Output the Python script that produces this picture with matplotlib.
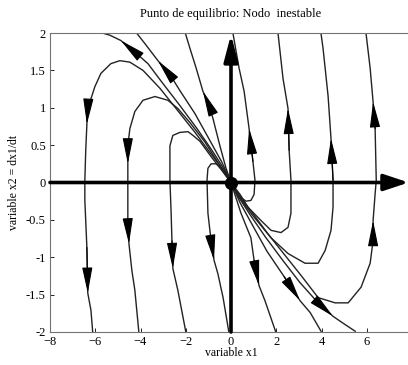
import numpy as np
import matplotlib.pyplot as plt

plt.rcParams.update({'font.family': 'Liberation Serif', 'font.size': 9})

# trayectorias (x1, x2), en el sentido del movimiento
# (todas salen del origen: nodo inestable)
a_x1 = [0, -0.35, -0.84, -1.50, -2.26, -3.05, -3.67, -4.12, -4.87, -5.35, -5.80]
a_x2 = [0, 0.20, 0.43, 0.72, 1.03, 1.34, 1.59, 1.71, 1.90, 1.97, 2.01]

f_x1 = [0, -0.40, -0.93, -1.59, -2.26, -2.65, -3.23, -3.81, -4.20]
f_x2 = [0, 0.27, 0.56, 0.92, 1.23, 1.42, 1.63, 1.86, 2.01]

k_x1 = [0, -0.22, -0.49, -0.80, -1.02, -1.24, -1.55, -1.81, -2.04]
k_x2 = [0, 0.19, 0.49, 0.86, 1.07, 1.22, 1.54, 1.79, 2.02]

b_x1 = [0, -0.40, -0.93, -1.59, -2.35, -3.14, -3.89, -4.47, -4.91, -5.31, -5.75,
        -6.02, -6.19, -6.33, -6.37, -6.42, -6.46, -6.46, -6.37, -6.33, -6.19, -6.11]
b_x2 = [0, 0.19, 0.40, 0.67, 0.96, 1.26, 1.50, 1.61, 1.63, 1.59, 1.46,
        1.28, 1.12, 0.99, 0.78, 0.43, 0.03, -0.24, -0.87, -1.48, -1.71, -2.01]

c_x1 = [0, -0.58, -1.15, -1.81, -2.35, -2.79, -3.36, -3.89, -4.25, -4.47, -4.56,
        -4.56, -4.56, -4.56, -4.51, -4.38, -4.25, -4.07]
c_x2 = [0, 0.27, 0.54, 0.80, 0.99, 1.10, 1.15, 1.10, 0.95, 0.72, 0.49,
        0.25, 0.03, -0.51, -0.82, -1.18, -1.44, -2.01]

d_x1 = [0, -0.40, -0.84, -1.37, -1.68, -1.90, -2.26, -2.57, -2.70, -2.70, -2.65,
        -2.61, -2.57, -2.35, -1.99]
d_x2 = [0, 0.16, 0.33, 0.55, 0.63, 0.68, 0.67, 0.63, 0.49, 0.03, -0.37,
        -0.78, -1.15, -1.44, -2.01]

e_x1 = [0, -0.22, -0.44, -0.66, -0.88, -1.02, -1.06, -1.02, -0.88, -0.75, -0.58, -0.35, -0.09]
e_x2 = [0, 0.09, 0.19, 0.25, 0.25, 0.19, 0.03, -0.41, -0.78, -1.04, -1.22, -1.54, -2.01]

g_x1 = [0, 0.40, 0.93, 1.59, 2.35, 3.14, 3.85, 4.60, 5.18, 5.75, 6.15, 6.28, 6.28,
        6.37, 6.42, 6.37, 6.28, 6.15, 5.97]
g_x2 = [0, -0.19, -0.40, -0.67, -0.96, -1.26, -1.54, -1.61, -1.61, -1.40, -1.08, -0.78, -0.51,
        -0.15, 0.03, 0.72, 1.08, 1.53, 1.99]

h_x1 = [0, 0.40, 0.93, 1.77, 2.52, 3.27, 3.85, 4.16, 4.42, 4.51, 4.51, 4.42, 4.29, 4.07, 3.98]
h_x2 = [0, -0.21, -0.43, -0.74, -0.95, -1.08, -1.08, -0.91, -0.64, -0.33, 0.03, 0.59, 1.16, 1.79, 1.99]

i_x1 = [0, 0.40, 0.75, 1.33, 1.77, 2.21, 2.52, 2.65, 2.65, 2.57, 2.52, 2.30, 2.08]
i_x2 = [0, -0.16, -0.33, -0.51, -0.64, -0.67, -0.60, -0.41, 0.03, 0.43, 0.99, 1.39, 1.99]

j_x1 = [0, 0.18, 0.44, 0.66, 0.88, 1.02, 1.06, 0.97, 0.80, 0.58, 0.35, 0.09]
j_x2 = [0, -0.09, -0.20, -0.25, -0.24, -0.16, 0.03, 0.28, 0.72, 1.22, 1.54, 1.99]

l_x1 = [0, 0.44, 0.88, 1.02, 1.24, 1.50, 1.99]
l_x2 = [0, -0.41, -0.74, -1.04, -1.38, -1.58, -2.01]

m_x1 = [0, 0.40, 0.93, 1.59, 2.35, 3.05, 3.50, 3.98]
m_x2 = [0, -0.27, -0.56, -0.92, -1.26, -1.58, -1.74, -1.99]

n_x1 = [0, 0.35, 0.84, 1.50, 2.26, 3.05, 3.85, 4.51, 5.04, 5.49]
n_x2 = [0, -0.20, -0.43, -0.72, -1.03, -1.34, -1.61, -1.79, -1.90, -1.99]

# (x1, x2, indices donde va la punta de flecha)
curvas = [
    (a_x1, a_x2, [8]), (f_x1, f_x2, [6]), (k_x1, k_x2, [5]),
    (b_x1, b_x2, [14, 19]), (c_x1, c_x2, [11, 14]), (d_x1, d_x2, [12]),
    (e_x1, e_x2, [9]), (g_x1, g_x2, [12, 16]), (h_x1, h_x2, [11]),
    (i_x1, i_x2, [10]), (j_x1, j_x2, [8]), (l_x1, l_x2, [4]),
    (m_x1, m_x2, [5]), (n_x1, n_x2, [7]),
]

xticks = [-8, -6, -4, -2, 0, 2, 4, 6]
yticks = [-2, -1.5, -1, -0.5, 0, 0.5, 1, 1.5, 2]
ytick_labels = ['-2', '-1.5', '-1', '-0.5', '0', '0.5', '1', '1.5', '2']

fig = plt.figure(figsize=(4.08, 3.65), dpi=100)
ax = fig.add_axes([50/408, 33/365, 362/408, 299/365])

for xs, ys, flechas in curvas:
    ax.plot(xs, ys, color='#222222', lw=1.0, zorder=2)
    for i in flechas:
        ax.annotate('', xy=(xs[i], ys[i]), xytext=(xs[i-1], ys[i-1]),
                    arrowprops=dict(arrowstyle='-|>,head_length=1.6,head_width=0.32',
                                    mutation_scale=10, fc='k', ec='k', lw=0.8,
                                    shrinkA=0, shrinkB=0), zorder=3)

# ejes del plano de fase
ax.annotate('', xy=(7.85, 0), xytext=(-8, 0), annotation_clip=False,
            arrowprops=dict(arrowstyle='-|>,head_length=1.5,head_width=0.5',
                            mutation_scale=10, fc='k', ec='k', lw=2.6,
                            shrinkA=0, shrinkB=0), zorder=4)
ax.annotate('', xy=(0, 1.98), xytext=(0, -2), annotation_clip=False,
            arrowprops=dict(arrowstyle='-|>,head_length=1.6,head_width=0.42',
                            mutation_scale=10, fc='k', ec='k', lw=2.6,
                            shrinkA=0, shrinkB=0), zorder=4)
ax.plot(0, 0, 'o', color='k', ms=8.5, zorder=5)

ax.set_xlim(-8, 8)
ax.set_ylim(-2, 2)
ax.set_xticks(xticks)
ax.set_yticks(yticks)
ax.set_yticklabels(ytick_labels)
ax.tick_params(direction='in', length=3, width=0.6, pad=3, labelsize=9)
for s in ax.spines.values():
    s.set_color('0.45')
    s.set_linewidth(0.8)

fig.text(231/408, 1 - 14/365, 'Punto de equilibrio: Nodo  inestable', ha='center', va='center', fontsize=9)
fig.text(231/408, 1 - 353/365, 'variable x1', ha='center', va='center', fontsize=8.5)
fig.text(14/408, 0.5, 'variable x2 = dx1/dt', ha='center', va='center', rotation=90, fontsize=8.5)

fig.savefig('out.png', dpi=100)
